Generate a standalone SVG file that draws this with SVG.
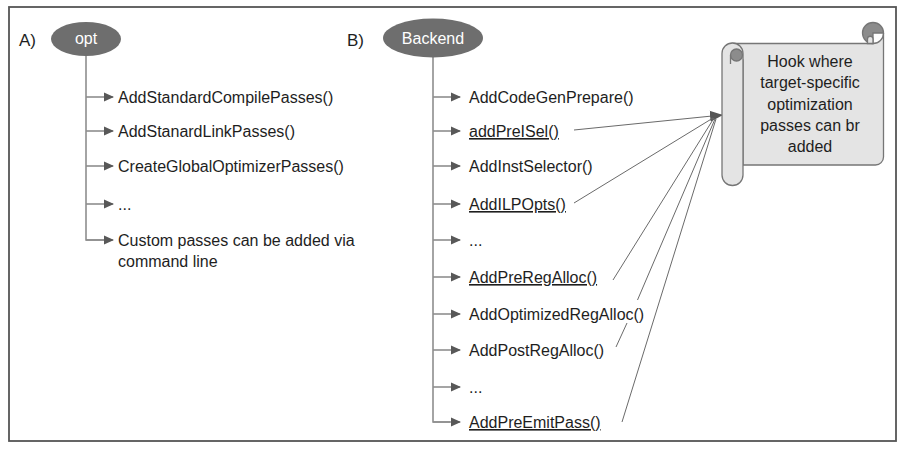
<svg xmlns="http://www.w3.org/2000/svg" width="909" height="452" viewBox="0 0 909 452">
<defs>
<style>
text{font-family:"Liberation Sans",Arial,sans-serif;font-size:16px;fill:#1e1e1e}
.lbl{font-size:17px}
.wt{fill:#ffffff;text-anchor:middle}
.ul{text-decoration:underline}
.tree{stroke:#8e8e8e;stroke-width:1.6;fill:none}
.br{stroke:#8e8e8e;stroke-width:1.6;fill:none;marker-end:url(#tri)}
.con{stroke:#6a6a6a;stroke-width:1;fill:none}
.oval{fill:#6e6e6e}
.ctr{text-anchor:middle}
</style>
<marker id="tri" viewBox="0 0 10 10" refX="9" refY="5" markerWidth="10" markerHeight="10" markerUnits="userSpaceOnUse" orient="auto">
<path d="M0,0.5 L10,5 L0,9.5 Z" fill="#585858"/>
</marker>
<marker id="head" viewBox="0 0 13 12" refX="12" refY="6" markerWidth="13" markerHeight="12" markerUnits="userSpaceOnUse" orient="auto">
<path d="M0,0.5 L13,6 L0,11.5 Z" fill="#555555"/>
</marker>
</defs>
<rect x="9" y="7" width="887" height="434" fill="#ffffff" stroke="#555555" stroke-width="1.8"/>

<text class="lbl" x="19" y="46">A)</text>
<text class="lbl" x="347" y="46">B)</text>

<g id="connectors">
<path class="tree" d="M86,56 V240 H104"/>
<line class="br" x1="86" y1="97" x2="113" y2="97"/>
<line class="br" x1="86" y1="131" x2="113" y2="131"/>
<line class="br" x1="86" y1="166" x2="113" y2="166"/>
<line class="br" x1="86" y1="204" x2="113" y2="204"/>
<line class="br" x1="86" y1="240" x2="113" y2="240"/>
<path class="tree" d="M433,57 V422 H450"/>
<line class="br" x1="433" y1="97" x2="460" y2="97"/>
<line class="br" x1="433" y1="131" x2="460" y2="131"/>
<line class="br" x1="433" y1="166" x2="460" y2="166"/>
<line class="br" x1="433" y1="204" x2="460" y2="204"/>
<line class="br" x1="433" y1="240" x2="460" y2="240"/>
<line class="br" x1="433" y1="277" x2="460" y2="277"/>
<line class="br" x1="433" y1="314" x2="460" y2="314"/>
<line class="br" x1="433" y1="350" x2="460" y2="350"/>
<line class="br" x1="433" y1="387" x2="460" y2="387"/>
<line class="br" x1="433" y1="422" x2="460" y2="422"/>
<line class="con" x1="574" y1="130" x2="722" y2="115" marker-end="url(#head)"/>
<line class="con" x1="574" y1="203" x2="713" y2="118"/>
<line class="con" x1="613" y1="280" x2="714" y2="118"/>
<path class="con" d="M616,347 L627,323 M637.5,300 L715,119"/>
<line class="con" x1="622" y1="422" x2="716" y2="119"/>
</g>

<g id="opt">
<ellipse class="oval" cx="86" cy="39" rx="35" ry="17"/>
<text class="wt" x="86" y="44">opt</text>
</g>
<g id="backend">
<ellipse class="oval" cx="433" cy="38" rx="50" ry="19.5"/>
<text class="wt" x="433" y="44">Backend</text>
</g>

<g id="a-items">
<text x="118" y="103">AddStandardCompilePasses()</text>
<text x="118" y="137">AddStanardLinkPasses()</text>
<text x="118" y="172">CreateGlobalOptimizerPasses()</text>
<text x="118" y="210">...</text>
<text x="118" y="246">Custom passes can be added via</text>
<text x="118" y="267">command line</text>
</g>

<g id="b-items">
<text x="469" y="103">AddCodeGenPrepare()</text>
<text class="ul" x="469" y="137">addPreISel()</text>
<text x="469" y="172">AddInstSelector()</text>
<text class="ul" x="469" y="210">AddILPOpts()</text>
<text x="469" y="246">...</text>
<text class="ul" x="469" y="283">AddPreRegAlloc()</text>
<text x="469" y="320">AddOptimizedRegAlloc()</text>
<text x="469" y="356">AddPostRegAlloc()</text>
<text x="469" y="393">...</text>
<text class="ul" x="469" y="428">AddPreEmitPass()</text>
</g>

<g id="hook" stroke="#767676" stroke-width="1.3">
<path d="M732.5,43.5 H873 A10.5,10.5 0 0 0 883.5,33 V157 A8,8 0 0 1 875.5,165 H743 V60 Z" fill="#e4e4e4"/>
<path d="M873,33 L873,43.5 A10.5,10.5 0 1 1 883.5,33 Z" fill="#8c8c8c"/>
<path d="M867.5,43.5 V39 A2.75,2.75 0 0 1 873,39 V43.5 Z" fill="#e4e4e4"/>
<path d="M722,53.5 A10.5,10.5 0 0 1 743,53.5 V175 A10.5,10.5 0 0 1 722,175 Z" fill="#e4e4e4"/>
<circle cx="736.5" cy="55" r="6" fill="#8c8c8c"/>
<path d="M730.5,55 V64" fill="none"/>
<g stroke="none">
<text class="ctr" x="810" y="67">Hook where</text>
<text class="ctr" x="810" y="88">target-specific</text>
<text class="ctr" x="810" y="110">optimization</text>
<text class="ctr" x="810" y="131">passes can br</text>
<text class="ctr" x="810" y="152">added</text>
</g>
</g>
</svg>
